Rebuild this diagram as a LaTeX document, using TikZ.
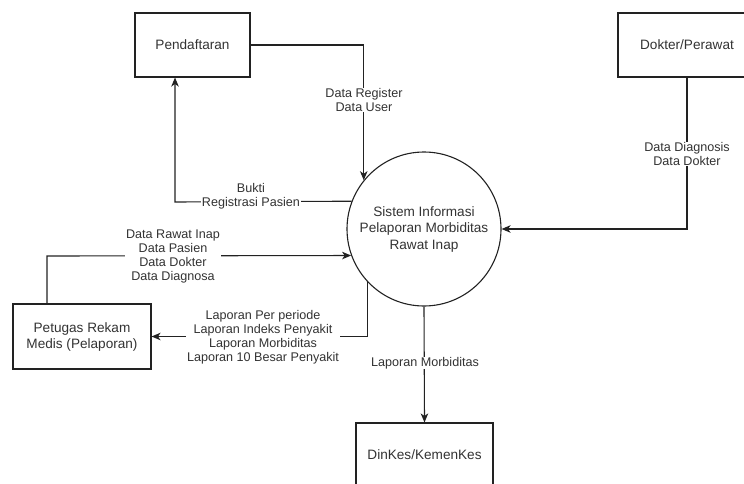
\documentclass[tikz,border=0pt]{standalone}
\usepackage{fontspec}
\setmainfont{Liberation Sans}
\usetikzlibrary{arrows.meta}
\definecolor{ink}{HTML}{222222}
\definecolor{txt}{HTML}{333333}
\begin{document}
\begin{tikzpicture}[x=1pt,y=-1pt,
  entity/.style={draw=ink,line width=1.1pt,fill=white,rectangle,align=center,
    text=txt,font=\fontsize{13.6}{16}\selectfont,inner sep=0pt},
  process/.style={draw=ink,line width=1.1pt,fill=white,circle,minimum size=154pt,
    align=center,text=txt,font=\fontsize{13.6}{16.5}\selectfont,inner sep=0pt},
  flow/.style={draw=ink,line width=1.1pt,-{Stealth[length=9pt,width=7.5pt,inset=2.5pt]}},
  plain/.style={draw=ink,line width=1.1pt},
  lbl/.style={fill=white,text=txt,align=center,font=\fontsize{12.6}{14}\selectfont,
    inner xsep=1pt,inner ysep=0pt}]
\useasboundingbox (0,0) rectangle (744,484);
\clip (0,0) rectangle (744,484);

% external entities and the process
\node[entity,minimum width=115pt,minimum height=64pt] (pend) at (192.5,45) {Pendaftaran};
\node[entity,minimum width=138pt,minimum height=64pt] (dok) at (687,45) {Dokter/Perawat};
\node[entity,minimum width=138pt,minimum height=65pt] (pet) at (82,336.5) {Petugas Rekam\\Medis (Pelaporan)};
\node[entity,minimum width=137pt,minimum height=64pt] (din) at (424.5,455) {DinKes/KemenKes};
\node[process] (sys) at (424,229) {Sistem Informasi\\Pelaporan Morbiditas\\Rawat Inap};

% Pendaftaran -> system
\draw[flow] (pend.east) -| (sys.141);
\node[lbl] (lreg) at (364,100) {Data Register\\Data User};

% system -> Pendaftaran
\coordinate (bk) at (175,202);
\draw[flow] (sys.159.5) -- (bk) -- (bk |- pend.south);
\node[lbl] (lbukti) at (251,196) {Bukti\\Registrasi Pasien};

% Dokter/Perawat -> system
\draw[flow] (dok.south) |- (sys.east);
\node[lbl] (ldok) at (687,154) {Data Diagnosis\\Data Dokter};

% Petugas -> system
\coordinate (pu) at (47,256);
\draw[flow] (pu |- pet.north) -- (pu) -- (sys.200.5);
\node[lbl] (lpet) at (173,256) {Data Rawat Inap\\Data Pasien\\Data Dokter\\Data Diagnosa};

% system -> Petugas
\draw[flow] (sys.223.3) |- (pet.east);
\node[lbl] (llap) at (263,337.5) {Laporan Per periode\\Laporan Indeks Penyakit\\Laporan Morbiditas\\Laporan 10 Besar Penyakit};

% system -> DinKes
\draw[flow] (sys.south) -- (din.north);
\node[lbl] (lmorb) at (425,363) {Laporan Morbiditas};
\end{tikzpicture}
\end{document}
